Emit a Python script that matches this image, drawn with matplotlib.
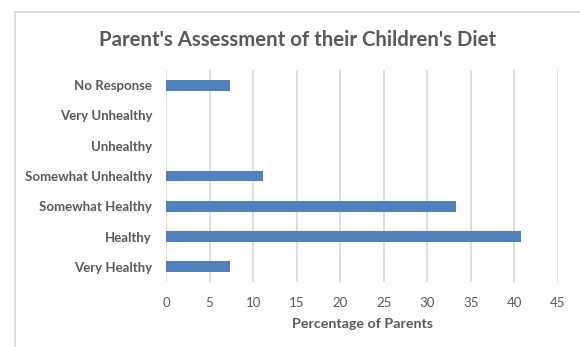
import matplotlib
matplotlib.use("Agg")
import matplotlib.pyplot as plt
from matplotlib.lines import Line2D

categories = ["Very Healthy", "Healthy", "Somewhat Healthy", "Somewhat Unhealthy",
              "Unhealthy", "Very Unhealthy", "No Response"]
percentages = [7.4, 40.7, 33.3, 11.1, 0.0, 0.0, 7.4]
x_ticks = [0, 5, 10, 15, 20, 25, 30, 35, 40, 45]

W, H = 580, 347
DPI = 100
fig = plt.figure(figsize=(W / DPI, H / DPI), dpi=DPI)
fig.patch.set_facecolor("white")

plt.rcParams["font.family"] = ["Lato", "DejaVu Sans"]
text_color = "#595959"

# plot area in pixels: x 166..558, y 70..282
left, right, top, bottom = 166, 558, 70, 282
ax = fig.add_axes([left / W, 1 - bottom / H, (right - left) / W, (bottom - top) / H])

ypos = list(range(len(categories)))
ax.barh(ypos, percentages, height=0.36, color="#4F81BD", zorder=3)
ax.set_xlim(0, 45)
ax.set_ylim(-0.5, len(categories) - 0.5)
ax.set_xticks(x_ticks)
ax.set_xticklabels([str(t) for t in x_ticks])
ax.set_yticks(ypos)
ax.set_yticklabels(categories, fontweight="bold")
ax.grid(axis="x", color="#d9d9d9", linewidth=1.2, zorder=0)
ax.grid(axis="y", visible=False)
for s in ax.spines.values():
    s.set_visible(False)
ax.tick_params(axis="both", length=0, colors=text_color, labelsize=9.5)
ax.tick_params(axis="x", pad=11)
ax.tick_params(axis="y", pad=10)
ax.set_xlabel("Percentage of Parents", fontweight="bold", color=text_color,
              fontsize=10.3, labelpad=6)

fig.text(298 / W, 1 - 40 / H, "Parent's Assessment of their Children's Diet",
         ha="center", va="center", fontsize=14.7, fontweight="bold", color=text_color)

# chart frame
fig.add_artist(Line2D([14.5 / W, 14.5 / W], [0, 1 - 11.5 / H], transform=fig.transFigure,
                      color="#d9d9d9", linewidth=1.2))
fig.add_artist(Line2D([14.5 / W, 1], [1 - 11.5 / H, 1 - 11.5 / H], transform=fig.transFigure,
                      color="#d9d9d9", linewidth=1.2))

fig.savefig("out.png", dpi=DPI)
